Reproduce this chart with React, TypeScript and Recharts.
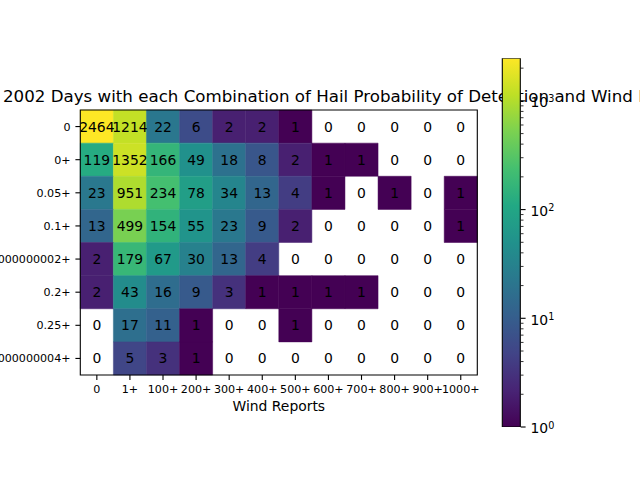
import React from 'react';
import {
  ComposedChart,
  BarChart,
  Bar,
  Scatter,
  XAxis,
  YAxis,
  ReferenceArea,
} from 'recharts';

const windLabels = ['0', '1+', '100+', '200+', '300+', '400+', '500+', '600+', '700+', '800+', '900+', '1000+'];
const hailLabels = ['0', '0+', '0.05+', '0.1+', '0.15000000000000002+', '0.2+', '0.25+', '0.30000000000000004+'];

const hail0 = [2464, 1214, 22, 6, 2, 2, 1, 0, 0, 0, 0, 0];
const hail0plus = [119, 1352, 166, 49, 18, 8, 2, 1, 1, 0, 0, 0];
const hail005 = [23, 951, 234, 78, 34, 13, 4, 1, 0, 1, 0, 1];
const hail010 = [13, 499, 154, 55, 23, 9, 2, 0, 0, 0, 0, 1];
const hail015 = [2, 179, 67, 30, 13, 4, 0, 0, 0, 0, 0, 0];
const hail020 = [2, 43, 16, 9, 3, 1, 1, 1, 1, 0, 0, 0];
const hail025 = [0, 17, 11, 1, 0, 0, 1, 0, 0, 0, 0, 0];
const hail030 = [0, 5, 3, 1, 0, 0, 0, 0, 0, 0, 0, 0];

const countRows = [hail0, hail0plus, hail005, hail010, hail015, hail020, hail025, hail030];

const colorbarTicks = [
  1, 2, 3, 4, 5, 6, 7, 8, 9,
  10, 20, 30, 40, 50, 60, 70, 80, 90,
  100, 200, 300, 400, 500, 600, 700, 800, 900,
  1000, 2000,
];

const viridisStops = [
  '#440154', '#482475', '#414487', '#355f8d', '#2a788e', '#21918c',
  '#22a884', '#44bf70', '#7ad151', '#bddf26', '#fde725',
];

const FONT = 'DejaVu Sans, Liberation Sans, sans-serif';

function hexToRgb(h: string) {
  return [parseInt(h.slice(1, 3), 16), parseInt(h.slice(3, 5), 16), parseInt(h.slice(5, 7), 16)];
}

function viridis(t: number) {
  const c = Math.max(0, Math.min(1, t)) * (viridisStops.length - 1);
  const i = Math.min(Math.floor(c), viridisStops.length - 2);
  const f = c - i;
  const a = hexToRgb(viridisStops[i]);
  const b = hexToRgb(viridisStops[i + 1]);
  const m = a.map((v, k) => Math.round(v + (b[k] - v) * f));
  return `rgb(${m[0]},${m[1]},${m[2]})`;
}

const allCounts = countRows.flat();
const vmax = Math.max(...allCounts);
const vmin = Math.min(...allCounts.filter((v) => v > 0));

function cellColor(v: number) {
  if (v <= 0) return 'none';
  return viridis((Math.log10(v) - Math.log10(vmin)) / (Math.log10(vmax) - Math.log10(vmin)));
}

const cells = countRows.flatMap((row, i) =>
  row.map((v, j) => ({ x: j, y: i, v }))
);

const colorbarData = [{ name: 'counts', top: vmax }];

const CellText = (props: any) => {
  const { cx, cy, payload } = props;
  return (
    <text
      x={cx}
      y={cy}
      dy="0.36em"
      textAnchor="middle"
      fontSize={13.9}
      fontFamily={FONT}
      fill="#000"
    >
      {payload.v}
    </text>
  );
};

const CbTick = (props: any) => {
  const { x, y, payload } = props;
  const v = payload.value;
  const e = Math.log10(v);
  const major = Math.abs(e - Math.round(e)) < 1e-9;
  const len = major ? 4.9 : 2.8;
  return (
    <g>
      <line x1={x} x2={x + len} y1={y} y2={y} stroke="#000" strokeWidth={major ? 1.1 : 0.8} />
      {major && (
        <text x={x + 9.8} y={y} dy={6.4} fontSize={13.9} fontFamily={FONT} fill="#000">
          10
          <tspan dy={-4.8} fontSize={9.7}>
            {Math.round(e)}
          </tspan>
        </text>
      )}
    </g>
  );
};

export default function App() {
  return (
    <div style={{ position: 'absolute', left: 0, top: 0, width: 640, height: 480, background: '#fff' }}>
      <div style={{ position: 'absolute', left: 0, top: 0 }}>
        <ComposedChart
          width={640}
          height={480}
          data={cells}
          margin={{ top: 110, right: 162.7, bottom: 65, left: 20.3 }}
        >
          <text
            x={3}
            y={101.7}
            textAnchor="start"
            fontSize={16.67}
            fontFamily={FONT}
            fill="#000"
          >
            2002 Days with each Combination of Hail Probability of Detection and Wind Reports
          </text>
          <XAxis
            type="number"
            dataKey="x"
            domain={[-0.5, 11.5]}
            ticks={windLabels.map((_, j) => j)}
            tickFormatter={(v: number) => windLabels[v]}
            interval={0}
            allowDataOverflow
            height={40}
            tickSize={4.9}
            tickMargin={4.9}
            axisLine={false}
            tickLine={{ stroke: '#000', strokeWidth: 1.1 }}
            tick={{ fill: '#000', fontSize: 11.1, fontFamily: FONT }}
            label={{
              value: 'Wind Reports',
              position: 'insideBottom',
              offset: 4,
              fill: '#000',
              fontSize: 13.9,
              fontFamily: FONT,
            }}
          />
          <YAxis
            type="number"
            dataKey="y"
            domain={[-0.5, 7.5]}
            reversed
            ticks={hailLabels.map((_, i) => i)}
            tickFormatter={(v: number) => hailLabels[v]}
            interval={0}
            allowDataOverflow
            width={60}
            tickSize={4.9}
            tickMargin={4.9}
            axisLine={false}
            tickLine={{ stroke: '#000', strokeWidth: 1.1 }}
            tick={{ fill: '#000', fontSize: 11.1, fontFamily: FONT }}
          />
          {cells.map((c) => (
            <ReferenceArea
              key={`c-${c.x}-${c.y}`}
              x1={c.x - 0.5}
              x2={c.x + 0.5}
              y1={c.y - 0.5}
              y2={c.y + 0.5}
              fill={cellColor(c.v)}
              fillOpacity={1}
              stroke={c.v > 0 ? cellColor(c.v) : 'none'}
              strokeWidth={0.5}
              ifOverflow="visible"
            />
          ))}
          <ReferenceArea
            x1={-0.5}
            x2={11.5}
            y1={-0.5}
            y2={7.5}
            fill="none"
            stroke="#000"
            strokeWidth={1.1}
            ifOverflow="visible"
          />
          <Scatter data={cells} dataKey="v" shape={<CellText />} isAnimationActive={false} />
        </ComposedChart>
      </div>
      <div style={{ position: 'absolute', left: 480, top: 0 }}>
        <BarChart
          width={160}
          height={480}
          data={colorbarData}
          barCategoryGap={0}
          barGap={0}
          margin={{ top: 58.3, right: 59.3, bottom: 53, left: 22.3 }}
        >
          <defs>
            <linearGradient id="viridisGrad" x1="0" y1="1" x2="0" y2="0">
              {viridisStops.map((c, k) => (
                <stop key={c} offset={`${(k / (viridisStops.length - 1)) * 100}%`} stopColor={c} />
              ))}
            </linearGradient>
          </defs>
          <XAxis type="category" dataKey="name" hide />
          <YAxis
            type="number"
            orientation="right"
            scale="log"
            domain={[vmin, vmax]}
            allowDataOverflow
            ticks={colorbarTicks}
            interval={0}
            width={60}
            tickSize={0}
            tickMargin={0}
            axisLine={false}
            tickLine={false}
            tick={<CbTick />}
          />
          <Bar
            dataKey="top"
            fill="url(#viridisGrad)"
            stroke="#000"
            strokeWidth={1.1}
            isAnimationActive={false}
          />
        </BarChart>
      </div>
    </div>
  );
}
